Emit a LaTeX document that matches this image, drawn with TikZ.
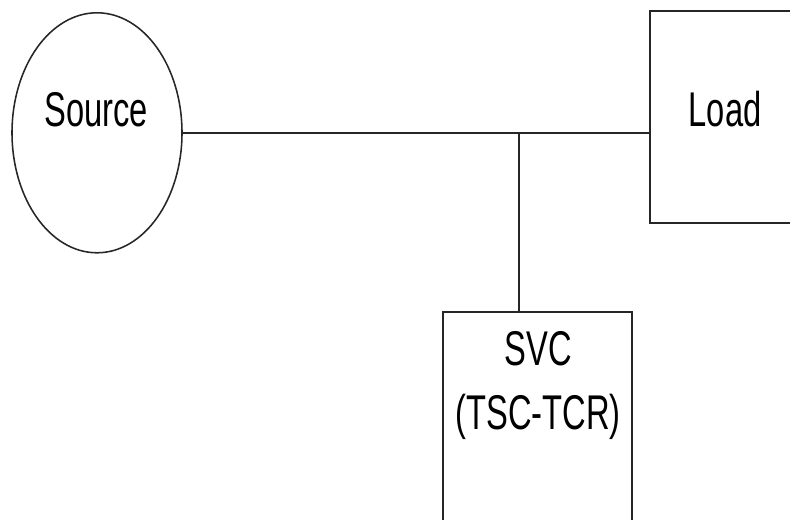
\documentclass[tikz,border=0pt]{standalone}
\usepackage{fontspec}
\setmainfont{Liberation Sans}[FakeStretch=0.67]
\usetikzlibrary{shapes.geometric,calc}
\tikzset{
  part/.style={draw=black!85, line width=1.1pt},
  wire/.style={draw=black!85, line width=1.1pt},
  lbl/.style={font=\fontsize{34.7pt}{45.5pt}\selectfont, inner sep=0pt, anchor=base},
}

\begin{document}
\begin{tikzpicture}
  % Page frame
  \useasboundingbox (0,0) rectangle (19.75,13);
  \clip (0,0) rectangle (19.75,13);
  \fill[white] (0,0) rectangle (19.75,13);

  % Source
  \node[part, ellipse, minimum width=4.25cm, minimum height=6cm, inner sep=0pt] (src) at (2.425,9.68) {};
  \node[lbl] (srctext) at (2.4,9.825) {Source};

  % Load (runs off the right edge)
  \node[part, minimum width=4.75cm, minimum height=5.3cm] (load) at (18.625,10.075) {};
  \node[lbl] (loadtext) at (18.125,9.825) {Load};

  % SVC (runs off the bottom edge)
  \node[part, minimum width=4.725cm, minimum height=5.7cm] (svc) at (13.4375,2.35) {};
  \node[lbl] (svctext) at (13.45,3.85) {SVC};
  \node[lbl] (tsctext) at (13.45,2.25) {(TSC-TCR)};

  % Bus and tap to the SVC
  \draw[wire] (src.east) -- (src.east -| load.west);
  \coordinate (tap) at (12.975,9.68);
  \draw[wire] (tap) -- (tap |- svc.north);
\end{tikzpicture}
\end{document}
